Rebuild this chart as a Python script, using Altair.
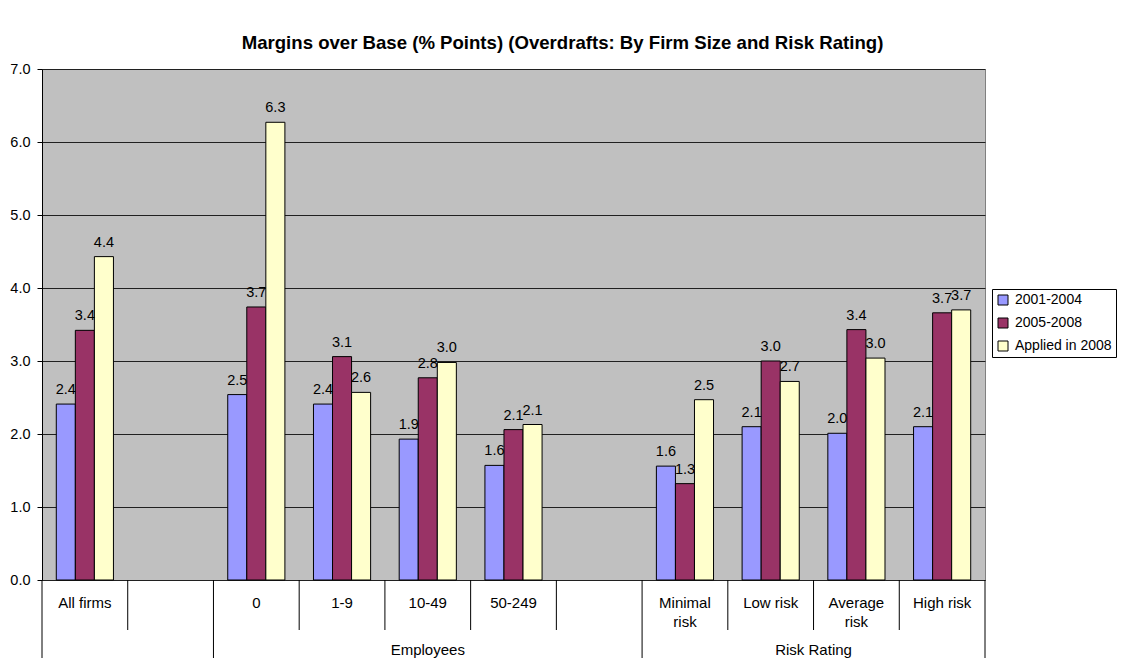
import altair as alt
import pandas as pd

# ---------------- data ----------------
categories = ["All firms", " ", "0", "1-9", "10-49", "50-249", "  ",
              "Minimal risk", "Low risk", "Average risk", "High risk"]
axis_labels = ["All firms", "", "0", "1-9", "10-49", "50-249", "",
               "Minimal\nrisk", "Low risk", "Average\nrisk", "High risk"]
series = ["2001-2004", "2005-2008", "Applied in 2008"]
colors = ["#9999FF", "#993366", "#FFFFCC"]
v_2001_2004 = [2.41, None, 2.54, 2.41, 1.93, 1.57, None, 1.56, 2.10, 2.01, 2.10]
v_2005_2008 = [3.42, None, 3.74, 3.06, 2.77, 2.06, None, 1.32, 3.00, 3.43, 3.66]
v_applied_2008 = [4.43, None, 6.27, 2.57, 2.98, 2.13, None, 2.47, 2.72, 3.04, 3.70]
group_names = ["", "Employees", "Risk Rating"]
group_start = [0, 2, 7]
group_end = [2, 7, 11]
y_ticks = [0, 1, 2, 3, 4, 5, 6, 7]
title_text = "Margins over Base (% Points) (Overdrafts: By Firm Size and Risk Rating)"

# ---------------- tables ----------------
rows = []
for s, vals in zip(series, [v_2001_2004, v_2005_2008, v_applied_2008]):
    for c, v in zip(categories, vals):
        if v is not None:
            rows.append({"cat": c, "series": s, "value": v})
bars_df = pd.DataFrame(rows)

lab_df = pd.DataFrame({"cat": categories, "label": axis_labels})

bounds = sorted(set(group_start + group_end + list(range(len(categories) + 1))))
long_b = set(group_start + group_end)
rules_df = pd.DataFrame({
    "pos": bounds,
    "kind": ["long" if b in long_b else "short" for b in bounds],
})
grp_df = pd.DataFrame({"name": group_names, "start": group_start, "end": group_end})

W, H = 943, 511
FONT = "Liberation Sans"

xband = alt.X("cat:N", sort=categories,
              scale=alt.Scale(domain=categories, paddingInner=1/3, paddingOuter=1/6),
              axis=None)
xoff = alt.XOffset("series:N", sort=series,
                   scale=alt.Scale(domain=series, paddingInner=0, paddingOuter=0))
yenc = alt.Y("value:Q",
             scale=alt.Scale(domain=[0, 7], nice=False),
             axis=alt.Axis(values=y_ticks, format=".1f", title=None, grid=True,
                           gridColor="#202020", gridOpacity=1, gridWidth=1,
                           domainColor="#000000", tickColor="#000000", tickSize=5,
                           labelFontSize=14.5, labelFont=FONT, labelColor="#000000",
                           labelPadding=7))

bars = alt.Chart(bars_df).mark_bar(stroke="#000000", strokeWidth=1).encode(
    x=xband, xOffset=xoff, y=yenc,
    color=alt.Color("series:N", sort=series,
                    scale=alt.Scale(domain=series, range=colors),
                    legend=alt.Legend(title=None, orient="none", legendX=950, legendY=220,
                                      strokeColor="#000000", fillColor="#FFFFFF",
                                      padding=4, symbolType="square", symbolSize=100,
                                      symbolStrokeColor="#000000", symbolStrokeWidth=1,
                                      labelFontSize=14, labelFont=FONT, labelColor="#000000",
                                      rowPadding=9, labelOffset=5, symbolOffset=0)),
)

vlabels = alt.Chart(bars_df).mark_text(
    fontSize=14.5, font=FONT, color="#000000", baseline="alphabetic", dy=-10
).encode(
    x=xband, xOffset=xoff,
    y=alt.Y("value:Q", scale=alt.Scale(domain=[0, 7], nice=False)),
    text=alt.Text("value:Q", format=".1f"),
)

row_labels = alt.Chart(lab_df).mark_text(
    fontSize=15, font=FONT, color="#000000", baseline="alphabetic",
    lineBreak="\n", lineHeight=19
).encode(
    x=xband,
    y=alt.value(H + 28),
    text="label:N",
)

inner = alt.layer(bars, vlabels, row_labels)

xq = alt.Scale(domain=[0, len(categories)], nice=False, zero=False)

rule_short = alt.Chart(rules_df).transform_filter(alt.datum.kind == "short").mark_rule(
    color="#000000", strokeWidth=1
).encode(
    x=alt.X("pos:Q", scale=xq, axis=None),
    y=alt.value(H), y2=alt.value(H + 50),
)
rule_long = alt.Chart(rules_df).transform_filter(alt.datum.kind == "long").mark_rule(
    color="#000000", strokeWidth=1
).encode(
    x=alt.X("pos:Q", scale=xq, axis=None),
    y=alt.value(H), y2=alt.value(H + 82),
)
grp_labels = alt.Chart(grp_df).transform_calculate(
    mid="(datum.start + datum.end) / 2"
).mark_text(
    fontSize=15, font=FONT, color="#000000", baseline="alphabetic"
).encode(
    x=alt.X("mid:Q", scale=xq, axis=None),
    y=alt.value(H + 75),
    text="name:N",
)

outer = alt.layer(rule_short, rule_long, grp_labels)

chart = alt.layer(inner, outer).resolve_scale(x="independent").properties(
    width=W, height=H,
    title=alt.TitleParams(title_text, fontSize=18.6, font=FONT, fontWeight="bold",
                          color="#000000", anchor="middle", dx=49, offset=8),
    autosize=alt.AutoSizeParams(type="none"),
    padding={"left": 34, "top": 61, "right": 134, "bottom": 78},
    background="#FFFFFF",
).configure_view(
    fill="#C0C0C0", stroke="#808080", strokeWidth=1
)

chart.save("out.html", embed_options={"renderer": "svg", "actions": False})
